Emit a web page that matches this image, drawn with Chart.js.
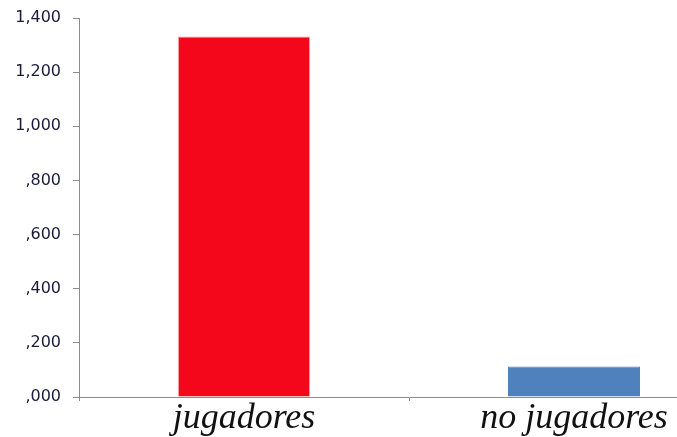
<!DOCTYPE html>
<html>
<head>
<meta charset="utf-8">
<script src="https://cdn.jsdelivr.net/npm/chart.js@4"></script>
<style>
  html, body { margin: 0; padding: 0; background: #fff; overflow: hidden; }
  #wrap { width: 745px; height: 437px; }
</style>
</head>
<body>
<div id="wrap"><canvas id="chart" width="745" height="437"></canvas></div>
<script>
const categories = ['jugadores', 'no jugadores'];
const values = [1.332, 0.113];
const barColors = ['#f5071b', '#4f81bd'];
const tickLabels = [',000', ',200', ',400', ',600', ',800', '1,000', '1,200', '1,400'];

const ctx = document.getElementById('chart').getContext('2d');
new Chart(ctx, {
  type: 'bar',
  data: {
    labels: categories,
    datasets: [{
      data: values,
      backgroundColor: barColors,
      borderColor: ['rgba(255,140,150,0.9)', '#4f81bd'],
      borderWidth: 1,
      categoryPercentage: 1,
      barPercentage: 0.4
    }]
  },
  options: {
    responsive: false,
    animation: false,
    layout: { padding: { top: 18, right: 6, left: 0, bottom: 0 } },
    plugins: {
      legend: { display: false },
      tooltip: { enabled: false }
    },
    scales: {
      x: {
        grid: {
          display: true,
          drawOnChartArea: false,
          drawTicks: true,
          tickLength: 4,
          offset: true,
          color: '#8c8c8c'
        },
        border: { display: true, color: '#8c8c8c', width: 1 },
        ticks: {
          color: '#111',
          padding: -4,
          font: { family: '"Liberation Serif", "Times New Roman", serif', style: 'italic', size: 36 }
        },
        afterFit: (scale) => { scale.height = 40; }
      },
      y: {
        min: 0,
        max: 1.4,
        ticks: {
          stepSize: 0.2,
          color: '#1a1a3c',
          padding: 12,
          font: { family: '"DejaVu Sans", Verdana, sans-serif', size: 16 },
          callback: (value, index) => tickLabels[index]
        },
        grid: {
          drawOnChartArea: false,
          drawTicks: true,
          tickLength: 6,
          color: '#8c8c8c'
        },
        border: { display: true, color: '#8c8c8c', width: 1 },
        afterFit: (scale) => {
          scale.width = 79;
          scale.paddingTop = 0;
          scale.paddingBottom = 0;
        }
      }
    }
  }
});
</script>
</body>
</html>
